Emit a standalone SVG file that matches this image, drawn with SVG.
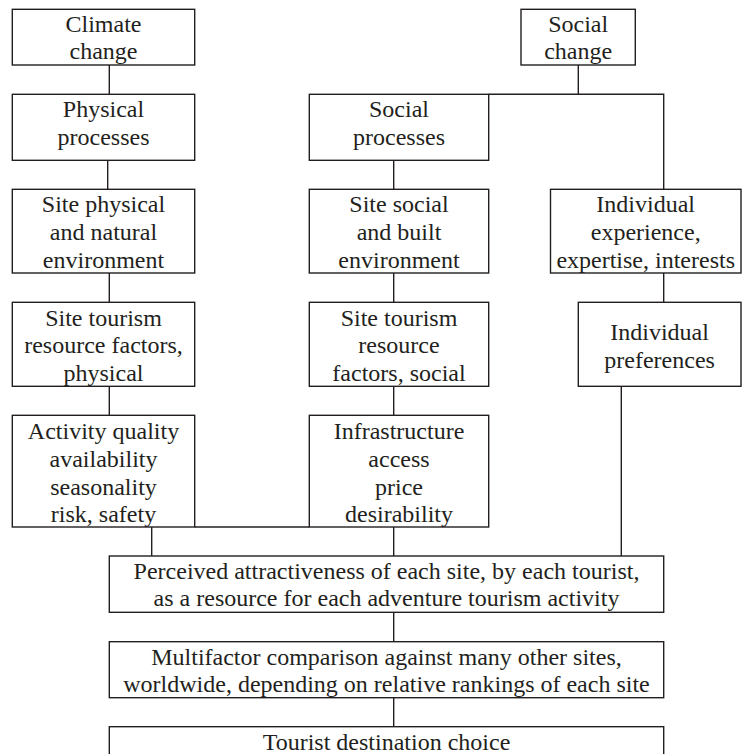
<svg xmlns="http://www.w3.org/2000/svg" width="745" height="754" viewBox="0 0 745 754">
<style>
.box{fill:#fff;stroke:#231f20;stroke-width:1.4}
.ln{fill:none;stroke:#231f20;stroke-width:1.4}
text{font-size:24px;fill:#231f20;text-anchor:middle}
</style>
<rect width="745" height="754" fill="#fff"/>
<g id="connectors">
<line class="ln" x1="109.3" y1="65" x2="109.3" y2="94.3"/>
<line class="ln" x1="107.7" y1="160.3" x2="107.7" y2="189.3"/>
<line class="ln" x1="109.3" y1="273" x2="109.3" y2="302.3"/>
<line class="ln" x1="109.3" y1="386.3" x2="109.3" y2="415.3"/>
<polyline class="ln" points="578.3,65 578.3,94.3"/>
<polyline class="ln" points="488.7,94.3 663.7,94.3 663.7,189.3"/>
<line class="ln" x1="393.7" y1="160.3" x2="393.7" y2="189.3"/>
<line class="ln" x1="393.7" y1="273" x2="393.7" y2="302.3"/>
<line class="ln" x1="393.7" y1="386.3" x2="393.7" y2="415.3"/>
<line class="ln" x1="663.7" y1="273" x2="663.7" y2="302.3"/>
<line class="ln" x1="194.7" y1="527" x2="309.3" y2="527"/>
<line class="ln" x1="151.7" y1="527" x2="151.7" y2="556"/>
<line class="ln" x1="393.7" y1="527" x2="393.7" y2="556"/>
<line class="ln" x1="621.3" y1="386.3" x2="621.3" y2="556"/>
<line class="ln" x1="393.7" y1="612.3" x2="393.7" y2="641.7"/>
<line class="ln" x1="393.7" y1="697.7" x2="393.7" y2="726.7"/>
</g>
<g id="climate-change" font-family="Liberation Serif">
<rect class="box" x="12.3" y="9.3" width="182.4" height="55.7"/>
<text font-family="Liberation Serif" x="103.5" y="32.3">Climate</text>
<text font-family="Liberation Serif" x="103.5" y="59.3">change</text>
</g>
<g id="social-change" font-family="Liberation Serif">
<rect class="box" x="521" y="9.3" width="114.3" height="55.7"/>
<text font-family="Liberation Serif" x="578.2" y="32.3">Social</text>
<text font-family="Liberation Serif" x="578.2" y="59.3">change</text>
</g>
<g id="physical-processes" font-family="Liberation Serif">
<rect class="box" x="12.3" y="94.3" width="182.4" height="66"/>
<text font-family="Liberation Serif" x="103.5" y="117.3">Physical</text>
<text font-family="Liberation Serif" x="103.5" y="145">processes</text>
</g>
<g id="social-processes" font-family="Liberation Serif">
<rect class="box" x="309.3" y="94.3" width="179.4" height="66"/>
<text font-family="Liberation Serif" x="399" y="117.3">Social</text>
<text font-family="Liberation Serif" x="399" y="145">processes</text>
</g>
<g id="site-physical" font-family="Liberation Serif">
<rect class="box" x="12.3" y="189.3" width="182.4" height="83.7"/>
<text font-family="Liberation Serif" x="103.5" y="212.3">Site physical</text>
<text font-family="Liberation Serif" x="103.5" y="240">and natural</text>
<text font-family="Liberation Serif" x="103.5" y="267.5">environment</text>
</g>
<g id="site-social" font-family="Liberation Serif">
<rect class="box" x="309.3" y="189.3" width="179.4" height="83.7"/>
<text font-family="Liberation Serif" x="399" y="212.3">Site social</text>
<text font-family="Liberation Serif" x="399" y="240">and built</text>
<text font-family="Liberation Serif" x="399" y="267.5">environment</text>
</g>
<g id="individual-experience" font-family="Liberation Serif">
<rect class="box" x="550.5" y="189.3" width="190.5" height="83.7"/>
<text font-family="Liberation Serif" x="645.7" y="212.3">Individual</text>
<text font-family="Liberation Serif" x="645.7" y="240">experience,</text>
<text font-family="Liberation Serif" x="645.7" y="267.5">expertise, interests</text>
</g>
<g id="site-tourism-physical" font-family="Liberation Serif">
<rect class="box" x="12.3" y="302.3" width="182.4" height="84"/>
<text font-family="Liberation Serif" x="103.5" y="325.7">Site tourism</text>
<text font-family="Liberation Serif" x="103.5" y="353">resource factors,</text>
<text font-family="Liberation Serif" x="103.5" y="380.5">physical</text>
</g>
<g id="site-tourism-social" font-family="Liberation Serif">
<rect class="box" x="309.3" y="302.3" width="179.4" height="84"/>
<text font-family="Liberation Serif" x="399" y="325.7">Site tourism</text>
<text font-family="Liberation Serif" x="399" y="353">resource</text>
<text font-family="Liberation Serif" x="399" y="380.5">factors, social</text>
</g>
<g id="individual-preferences" font-family="Liberation Serif">
<rect class="box" x="578.3" y="302.3" width="162.7" height="84"/>
<text font-family="Liberation Serif" x="659.6" y="340">Individual</text>
<text font-family="Liberation Serif" x="659.6" y="367.5">preferences</text>
</g>
<g id="activity-quality" font-family="Liberation Serif">
<rect class="box" x="12.3" y="415.3" width="182.4" height="111.7"/>
<text font-family="Liberation Serif" x="103.5" y="439">Activity quality</text>
<text font-family="Liberation Serif" x="103.5" y="467">availability</text>
<text font-family="Liberation Serif" x="103.5" y="494.5">seasonality</text>
<text font-family="Liberation Serif" x="103.5" y="522">risk, safety</text>
</g>
<g id="infrastructure" font-family="Liberation Serif">
<rect class="box" x="309.3" y="415.3" width="179.4" height="111.7"/>
<text font-family="Liberation Serif" x="399" y="439">Infrastructure</text>
<text font-family="Liberation Serif" x="399" y="467">access</text>
<text font-family="Liberation Serif" x="399" y="494.5">price</text>
<text font-family="Liberation Serif" x="399" y="522">desirability</text>
</g>
<g id="perceived-attractiveness" font-family="Liberation Serif">
<rect class="box" x="109.3" y="556" width="554.4" height="56.3"/>
<text font-family="Liberation Serif" x="386.5" y="579">Perceived attractiveness of each site, by each tourist,</text>
<text font-family="Liberation Serif" x="386.5" y="606">as a resource for each adventure tourism activity</text>
</g>
<g id="multifactor-comparison" font-family="Liberation Serif">
<rect class="box" x="109.3" y="641.7" width="554.4" height="56"/>
<text font-family="Liberation Serif" x="386.5" y="664.7">Multifactor comparison against many other sites,</text>
<text font-family="Liberation Serif" x="386.5" y="691.7">worldwide, depending on relative rankings of each site</text>
</g>
<g id="tourist-destination-choice" font-family="Liberation Serif">
<rect class="box" x="109.3" y="726.7" width="554.4" height="40"/>
<text font-family="Liberation Serif" x="386.5" y="749.7">Tourist destination choice</text>
</g>
</svg>
